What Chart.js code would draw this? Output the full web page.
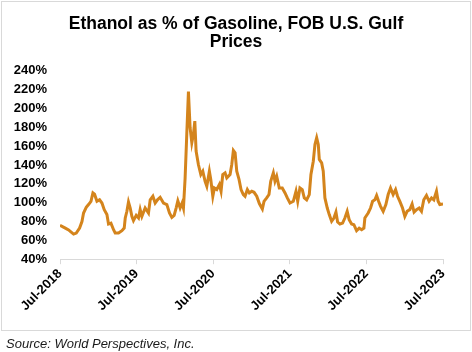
<!DOCTYPE html>
<html>
<head>
<meta charset="utf-8">
<script src="https://cdn.jsdelivr.net/npm/chart.js@4/dist/chart.umd.min.js"></script>
<style>
  html, body { margin: 0; padding: 0; background: #fff; }
  body { width: 472px; height: 352px; position: relative; overflow: hidden; font-family: "Liberation Sans", Arial, sans-serif; }
  #frame { position: absolute; left: 1px; top: 1px; width: 468px; height: 328px; border: 1px solid #d9d9d9; }
  #wrap { position: absolute; left: 0; top: 0; width: 472px; height: 352px; }
  #source { position: absolute; left: 6px; top: 336px; font-size: 13px; font-style: italic; color: #1a1a1a; white-space: nowrap; }
</style>
</head>
<body>
<div id="frame"></div>
<div id="wrap"><canvas id="c" width="472" height="352"></canvas></div>
<div id="source">Source: World Perspectives, Inc.</div>
<script>
// Months since Jul-2018
const months = [
  0, 0.83, 1.35, 1.61, 2.13, 2.55, 3.07, 3.44, 3.69, 4.11, 4.47, 4.85, 5.16, 5.41, 5.79, 6.2, 6.57, 6.93, 7.35, 7.6,
  7.98, 8.39, 8.65, 9.17, 9.7, 10.06, 10.22, 10.48, 10.73, 11.0, 11.26, 11.51, 11.94, 12.3, 12.56, 12.83, 13.34, 13.86, 14.13, 14.55,
  14.91, 15.27, 15.69, 16.21, 16.74, 17.15, 17.52, 17.88, 18.19, 18.46, 18.82, 19.13, 19.34, 19.6, 19.86, 20.12, 20.38, 20.65, 20.9, 21.12,
  21.32, 21.68, 22.06, 22.37, 22.73, 23.0, 23.4, 23.62, 23.94, 24.19, 24.56, 24.97, 25.23, 25.5, 25.86, 26.13, 26.64, 26.91, 27.16, 27.43,
  27.69, 28.05, 28.36, 28.72, 28.99, 29.35, 29.66, 30.04, 30.4, 30.82, 31.23, 31.7, 31.96, 32.38, 32.74, 33.01, 33.42, 33.68, 33.95, 34.35,
  34.82, 35.25, 35.61, 36.03, 36.55, 36.97, 37.24, 37.59, 37.95, 38.27, 38.64, 39.05, 39.31, 39.68, 39.94, 40.21, 40.46, 40.62, 40.99, 41.24,
  41.5, 41.87, 42.18, 42.55, 42.91, 43.23, 43.49, 43.85, 44.27, 44.63, 44.99, 45.3, 45.68, 46.04, 46.46, 46.87, 47.25, 47.61, 47.76, 48.28,
  48.65, 48.97, 49.33, 49.6, 49.91, 50.22, 50.63, 51.05, 51.41, 51.78, 52.19, 52.57, 52.88, 53.24, 53.66, 54.02, 54.38, 54.8, 55.16, 55.47,
  55.85, 56.26, 56.63, 56.99, 57.41, 57.82, 58.2, 58.56, 58.98, 59.23, 59.5, 60.0
];
// Ethanol price as % of gasoline
const ratio = [
  76, 73, 71, 69.5, 66.6, 67.7, 73, 80, 89, 95, 98, 101.4, 110.3, 109, 101.4, 103, 99.6, 92.6, 87.3, 77.3,
  78.3, 71.3, 67.7, 67.7, 70.2, 73, 83.7, 90.8, 100.7, 94.3, 85.5, 80.9, 86.5, 83.7, 92.6, 85.5, 94.3, 89, 103, 106.8,
  99.6, 103, 105.7, 99.6, 98, 89, 84.4, 86.5, 94.3, 102, 94.3, 99.6, 94.3, 126, 172.5, 217.9, 179.5, 163.5, 172.5, 186.6,
  154.7, 140.5, 129.9, 133.4, 122.7, 117.4, 133.4, 124.6, 106.8, 115.6, 113.9, 119.2, 112.1, 129.9, 131.6, 126.3, 129.9, 140.5, 155.4, 152.9,
  133.4, 124.6, 113.9, 108.6, 106.8, 113.9, 110.3, 112.1, 111, 106.8, 99, 93.2, 101.4, 105, 108.6, 122.7, 131.6, 122.7, 128, 115.6,
  115.6, 110.3, 105, 99.6, 101.4, 112.1, 101.4, 115.6, 113.9, 105, 103, 108.6, 129.9, 144, 161.8, 168.9, 161.8, 145.9, 142.2, 133.4,
  105, 94.3, 87.3, 80.2, 83.7, 90, 79.4, 77.3, 78.3, 83.7, 90.8, 82, 77.3, 76.6, 70.2, 73, 71.3, 73, 83.7, 89,
  94.3, 101.4, 103, 107.5, 101.4, 96.1, 90.8, 98, 108.6, 115.6, 108.6, 113.9, 106.8, 101.4, 94.3, 85.5, 90.8, 92.6, 98.5, 90,
  92.6, 94.3, 90.8, 103, 107.6, 101.4, 105, 103, 112.1, 101.4, 98, 98.5
];
const yTicks = [40, 60, 80, 100, 120, 140, 160, 180, 200, 220, 240];
const xTickMonths = [0, 12, 24, 36, 48, 60];
const xTickLabels = ['Jul-2018', 'Jul-2019', 'Jul-2020', 'Jul-2021', 'Jul-2022', 'Jul-2023'];
const titleLines = ['Ethanol as % of Gasoline, FOB U.S. Gulf', 'Prices'];

const points = months.map((m, i) => ({ x: m, y: ratio[i] }));
const FONT = '"Liberation Sans", Arial, sans-serif';

new Chart(document.getElementById('c'), {
  type: 'line',
  data: {
    datasets: [{
      data: points,
      borderColor: '#D4841C',
      borderWidth: 3,
      pointRadius: 0,
      tension: 0,
      fill: false
    }]
  },
  options: {
    responsive: false,
    animation: false,
    devicePixelRatio: 1,
    layout: { padding: { left: 13, right: 13, top: 0, bottom: 36 } },
    plugins: {
      legend: { display: false },
      tooltip: { enabled: false },
      title: {
        display: true,
        text: titleLines,
        color: '#000',
        font: { family: FONT, size: 17.5, weight: 'bold', lineHeight: 1.05 },
        padding: { top: 15, bottom: 19 }
      }
    },
    scales: {
      x: {
        type: 'linear',
        min: xTickMonths[0],
        max: xTickMonths[xTickMonths.length - 1],
        afterBuildTicks: (axis) => { axis.ticks = xTickMonths.map(v => ({ value: v })); },
        afterFit: (axis) => { axis.paddingLeft = 0; axis.paddingRight = 29; },
        ticks: {
          autoSkip: false,
          maxRotation: 45,
          minRotation: 45,
          padding: 2,
          color: '#000',
          font: { family: FONT, size: 13, weight: 'bold' },
          callback: (v) => xTickLabels[xTickMonths.indexOf(v)]
        },
        grid: { display: true, drawOnChartArea: false, drawTicks: true, tickLength: 5, color: '#d9d9d9' },
        border: { display: true, color: '#d9d9d9', width: 1 }
      },
      y: {
        min: yTicks[0],
        max: yTicks[yTicks.length - 1],
        afterBuildTicks: (axis) => { axis.ticks = yTicks.map(v => ({ value: v })); },
        afterFit: (axis) => { axis.width = 47; },
        ticks: {
          padding: 13,
          color: '#000',
          font: { family: FONT, size: 13, weight: 'bold' },
          callback: (v) => v + '%'
        },
        grid: { display: false, drawTicks: false },
        border: { display: false }
      }
    }
  }
});
</script>
</body>
</html>
